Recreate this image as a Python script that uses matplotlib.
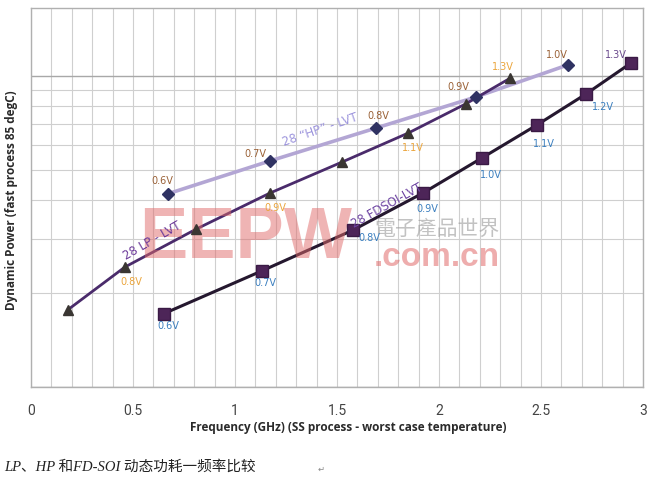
import matplotlib
matplotlib.use("Agg")
import matplotlib.pyplot as plt
from matplotlib.ticker import MultipleLocator, LogLocator, NullFormatter

# ---- data ----
lp_freq = [0.18, 0.46, 0.81, 1.17, 1.525, 1.85, 2.13, 2.35]
lp_power = [1.77, 2.43, 3.22, 4.20, 5.29, 6.56, 8.13, 9.85]
lp_labels = ["", "0.8V", "", "0.9V", "", "1.1V", "", "1.3V"]

hp_freq = [0.67, 1.17, 1.69, 2.18, 2.63]
hp_power = [4.18, 5.33, 6.80, 8.56, 10.85]
hp_labels = ["0.6V", "0.7V", "0.8V", "0.9V", "1.0V"]

fd_freq = [0.65, 1.13, 1.58, 1.92, 2.21, 2.48, 2.72, 2.94]
fd_power = [1.72, 2.36, 3.20, 4.20, 5.45, 6.96, 8.75, 11.0]
fd_labels = ["0.6V", "0.7V", "0.8V", "0.9V", "1.0V", "1.1V", "1.2V", "1.3V"]

x_ticks = [0, 0.5, 1, 1.5, 2, 2.5, 3]
x_ticklabels = ["0", "0.5", "1", "1.5", "2", "2.5", "3"]

# label offsets (pixels) - style only
lp_off = [(0, 0), (6, -15), (0, 0), (6, -15), (0, 0), (4, -15), (0, 0), (-8, 11)]
hp_off = [(-5, 13), (-14, 7), (3, 12), (-17, 10), (-11, 10)]
fd_off = [(5, -12), (4, -12), (16, -8), (5, -16), (9, -17), (7, -19), (17, -13), (-15, 8)]
fd_colors = ["#3b7fbf"] * 7 + ["#6a4a8c"]

fig = plt.figure(figsize=(6.5, 4.79), dpi=100)
ax = fig.add_axes([31 / 650, 1 - 387 / 479, 612 / 650, 379 / 479])
ax.set_yscale("log")
ax.set_xlim(0, 3)
ax.set_ylim(1, 16.55)

ax.xaxis.set_major_locator(MultipleLocator(0.5))
ax.xaxis.set_minor_locator(MultipleLocator(0.1))
ax.yaxis.set_major_locator(LogLocator(base=10))
ax.yaxis.set_minor_locator(LogLocator(base=10, subs=range(2, 10)))
ax.yaxis.set_major_formatter(NullFormatter())
ax.yaxis.set_minor_formatter(NullFormatter())
ax.grid(True, which="minor", color="#cfcfcf", linewidth=0.8)
ax.grid(True, which="major", axis="x", color="#cfcfcf", linewidth=0.8)
ax.grid(True, which="major", axis="y", color="#a8a8a8", linewidth=1.0)
ax.set_axisbelow(True)
ax.tick_params(which="both", length=0)
ax.tick_params(axis="x", pad=12)
ax.set_xticks(x_ticks)
ax.set_xticklabels(x_ticklabels, fontsize=10, color="#444444",
                   family=["Liberation Sans Narrow", "Roboto"], fontstretch="condensed")
for s in ax.spines.values():
    s.set_color("#b0b0b0")
    s.set_linewidth(1.0)

# watermark
ax.text(0.35, 0.39, "EEPW", transform=ax.transAxes, fontsize=52, fontweight="bold",
        color="#e06a6a", alpha=0.5, ha="center", va="center", family="Liberation Sans",
        zorder=5)
ax.text(0.663, 0.343, ".com.cn", transform=ax.transAxes, fontsize=24, fontweight="bold",
        color="#e06a6a", alpha=0.55, ha="center", va="center", family="Liberation Sans",
        zorder=5)
ax.text(0.663, 0.417, "電子產品世界", transform=ax.transAxes, fontsize=15,
        color="#9a9a9a", alpha=0.6, ha="center", va="center", family="Noto Sans CJK TC",
        zorder=5)

# series
ax.plot(hp_freq, hp_power, color="#b3a6d4", linewidth=2.6, zorder=3)
ax.plot(hp_freq, hp_power, linestyle="none", marker="D", markersize=6,
        color="#2f3262", zorder=6)
ax.plot(lp_freq, lp_power, color="#4a2b6b", linewidth=2.0, zorder=3)
ax.plot(lp_freq, lp_power, linestyle="none", marker="^", markersize=7,
        color="#3a3632", zorder=6)
ax.plot(fd_freq, fd_power, color="#25182f", linewidth=2.2, zorder=3)
ax.plot(fd_freq, fd_power, linestyle="none", marker="s", markersize=8.5,
        color="#4d2558", markeredgecolor="#3a1a45", zorder=6)

for xv, yv, lab, off in zip(lp_freq, lp_power, lp_labels, lp_off):
    if lab:
        ax.annotate(lab, (xv, yv), xytext=off, textcoords="offset pixels",
                    fontsize=7, color="#eba53c", ha="center", va="center", zorder=7)
for xv, yv, lab, off in zip(hp_freq, hp_power, hp_labels, hp_off):
    ax.annotate(lab, (xv, yv), xytext=off, textcoords="offset pixels",
                fontsize=7, color="#9a6136", ha="center", va="center", zorder=7)
for xv, yv, lab, off, c in zip(fd_freq, fd_power, fd_labels, fd_off, fd_colors):
    ax.annotate(lab, (xv, yv), xytext=off, textcoords="offset pixels",
                fontsize=7, color=c, ha="center", va="center", zorder=7)

# series names
fig.text(320 / 650, 1 - 130 / 479, "28 \u201cHP\u201d - LVT", rotation=19, fontsize=8.5,
         color="#9c94dc", ha="center", va="center")
fig.text(152 / 650, 1 - 241 / 479, "28 LP - LVT", rotation=30, fontsize=8.5,
         color="#6c3a99", ha="center", va="center")
fig.text(387 / 650, 1 - 206 / 479, "28 FDSOI-LVT", rotation=29, fontsize=8.5,
         color="#6e45a2", ha="center", va="center")

# axis titles
fig.text(348 / 650, 1 - 428 / 479, "Frequency (GHz) (SS process - worst case temperature)",
         fontsize=8.5, fontweight="bold", color="#2a2a2a", ha="center", va="center",
         family="Open Sans")
fig.text(12 / 650, 1 - 200 / 479, "Dynamic Power (fast process 85 degC)", rotation=90,
         fontsize=8.5, fontweight="bold", color="#2a2a2a", ha="center", va="center",
         family="Open Sans")

# caption
fig.text(4 / 650, 1 - 467 / 479, "LP\u3001HP \u548cFD-SOI \u52a8\u6001\u529f\u8017\u4e00\u9891\u7387\u6bd4\u8f83",
         fontsize=10.5, style="italic", color="#222222", ha="left", va="center",
         family=["Liberation Serif", "Noto Sans CJK SC"])
fig.text(318 / 650, 1 - 469 / 479, "\u21b5", fontsize=6, color="#888888",
         ha="left", va="center", family="DejaVu Sans")

fig.savefig("out.png", dpi=100)
